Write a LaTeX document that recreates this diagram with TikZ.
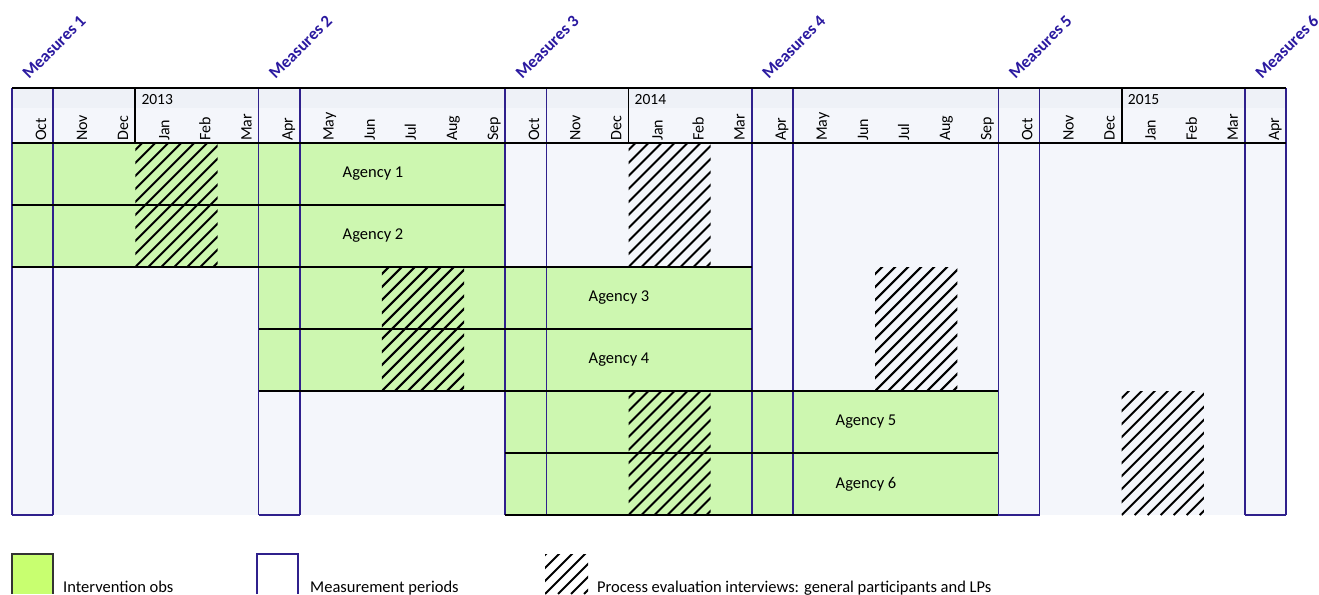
\documentclass[tikz,border=0pt]{standalone}
\usepackage{fontspec}
\setmainfont{Carlito}
\usetikzlibrary{positioning}
\definecolor{cellgreen}{RGB}{205,247,176}
\definecolor{keygreen}{RGB}{200,255,112}
\definecolor{cellbg}{RGB}{244,246,251}
\definecolor{yearbg}{RGB}{238,241,247}
\definecolor{measblue}{RGB}{43,26,160}
\definecolor{gridblue}{RGB}{47,32,140}
\tikzstyle{greencell}=[fill=cellgreen, draw=white, line width=1.2pt]
\tikzstyle{rowline}=[line width=1.9pt, black]
\tikzstyle{measline}=[line width=1.6pt, gridblue]
\tikzstyle{hatchline}=[line width=2pt, black]
\tikzstyle{monthsty}=[rotate=90, anchor=base west, inner sep=0pt, font=\fontsize{16}{16}\selectfont]
\tikzstyle{yearsty}=[anchor=base west, inner sep=0pt, font=\fontsize{15.5}{15.5}\selectfont]
\tikzstyle{meassty}=[rotate=45, anchor=base west, inner sep=0pt, text=measblue, font=\fontsize{17}{17}\selectfont\bfseries]
\tikzstyle{agencysty}=[inner sep=0pt, font=\fontsize{16.5}{16.5}\selectfont]
\tikzstyle{keysty}=[anchor=base west, inner sep=0pt, font=\fontsize{16.5}{16.5}\selectfont]
% hatched block: x1 y1 x2 y2
\newcommand{\hatchbox}[4]{%
  \begin{scope}
    \clip (#1,#2) rectangle (#3,#4);
    \foreach \k in {0,...,18} {
      \draw[hatchline] ({#1-130+\k*13},#4) -- ++(130,-130);
    }
  \end{scope}}
% left edge of month column
\newcommand{\mx}[1]{12+41.1*#1}

\begin{document}
\begin{tikzpicture}[x=1pt, y=-1pt]
  \useasboundingbox (0,0) rectangle (1319,594);

  % background of the chart
  \fill[cellbg] (12,88) rectangle ({\mx{31}},515);
  \fill[yearbg] (12,88) rectangle ({\mx{31}},108);

  % Intervention blocks
  \foreach \ya/\yb/\segs in {143/267/{0/1,1/6,6/7,7/12},
                             267/391/{6/7,7/12,12/13,13/18},
                             391/515/{12/13,13/18,18/19,19/24}} {
    \foreach \a/\b in \segs {
      \draw[greencell] ({\mx{\a}},\ya) rectangle ({\mx{\b}},\yb);
    }
  }

  % Process evaluation interviews
  \hatchbox{\mx{3}}{143}{\mx{5}}{267}
  \hatchbox{\mx{15}}{143}{\mx{17}}{267}
  \hatchbox{\mx{9}}{267}{\mx{11}}{391}
  \hatchbox{\mx{21}}{267}{\mx{23}}{391}
  \hatchbox{\mx{15}}{391}{\mx{17}}{515}
  \hatchbox{\mx{27}}{391}{\mx{29}}{515}

  % grid
  \foreach \i in {0,1,6,7,12,13,18,19,24,25,30,31}
    \draw[measline] ({\mx{\i}},88) -- ({\mx{\i}},515);
  \foreach \a/\b in {0/1,6/7,24/25,30/31}
    \draw[measline] ({\mx{\a}},515) -- ({\mx{\b}},515);
  \foreach \i in {3,15,27}
    \draw[rowline] ({\mx{\i}},88) -- ({\mx{\i}},143);
  \foreach \y/\a/\b in {88/0/31,143/0/31,205/0/12,267/0/18,329/6/18,
                        391/6/24,453/12/24,515/12/24}
    \draw[rowline] ({\mx{\a}},\y) -- ({\mx{\b}},\y);

  % month and year labels
  \foreach \m [count=\i from 0] in {Oct,Nov,Dec,Jan,Feb,Mar,Apr,May,Jun,Jul,Aug,Sep,
                                    Oct,Nov,Dec,Jan,Feb,Mar,Apr,May,Jun,Jul,Aug,Sep,
                                    Oct,Nov,Dec,Jan,Feb,Mar,Apr}
    \node[monthsty] (mon\i) at ({\mx{\i}+34},141) {\m};
  \foreach \yr/\i in {2013/3,2014/15,2015/27}
    \node[yearsty] (yr\yr) at ({\mx{\i}+6},104) {\yr};

  % measurement points
  \foreach \n/\i in {1/0,2/6,3/12,4/18,5/24,6/30}
    \node[meassty] (meas\n) at ({\mx{\i}+17},80) {Measures \n};

  % agencies
  \node[agencysty] (ag1) at (373,174) {Agency 1};
  \node[agencysty] (ag2) at (373,236) {Agency 2};
  \node[agencysty] (ag3) at (619,298) {Agency 3};
  \node[agencysty] (ag4) at (619,360) {Agency 4};
  \node[agencysty] (ag5) at (866,422) {Agency 5};
  \node[agencysty] (ag6) at (866,484) {Agency 6};

  % legend
  \fill[keygreen] (12,554) rectangle (53,594);
  \draw[line width=1.5pt, black!80] (12,594) -- (12,554) -- (53,554) -- (53,594);
  \draw[measline] (257,594) -- (257,554) -- (298,554) -- (298,594);
  \hatchbox{545}{554}{588}{594}
  \node[keysty] (keyobs) at (63,592) {Intervention obs};
  \node[keysty] (keymeas) at (310,592) {Measurement periods};
  \node[keysty] (keyproc) at (597,592) {Process evaluation interviews: general participants and LPs};
\end{tikzpicture}
\end{document}
